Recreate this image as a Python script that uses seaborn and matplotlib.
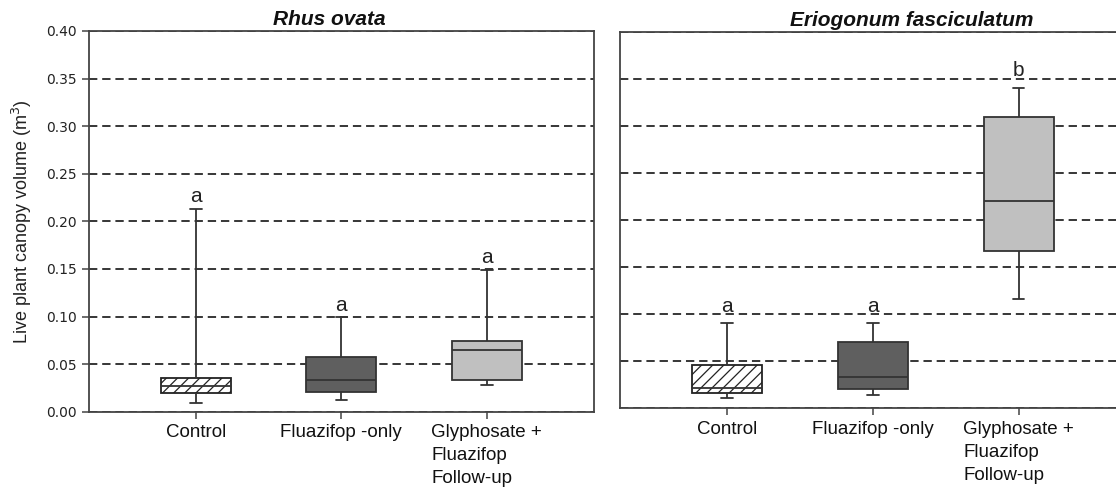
import numpy as np
import pandas as pd
import matplotlib
matplotlib.use("Agg")
import matplotlib.pyplot as plt
import seaborn as sns

# Treatments and species
treatments = ["Control", "Fluazifop -only", "Glyphosate +\nFluazifop\nFollow-up"]
species = ["Rhus ovata", "Eriogonum fasciculatum"]

# Five-number summaries (m^3) per treatment: min, q1, median, q3, max
rhus_min = [0.009, 0.012, 0.028]
rhus_q1 = [0.020, 0.021, 0.033]
rhus_med = [0.027, 0.033, 0.065]
rhus_q3 = [0.035, 0.057, 0.074]
rhus_max = [0.213, 0.099, 0.149]

erio_min = [0.011, 0.014, 0.116]
erio_q1 = [0.016, 0.021, 0.167]
erio_med = [0.022, 0.033, 0.220]
erio_q3 = [0.046, 0.071, 0.310]
erio_max = [0.091, 0.091, 0.341]

# Significance groupings
rhus_letters = ["a", "a", "a"]
erio_letters = ["a", "a", "b"]

y_ticks = [0.00, 0.05, 0.10, 0.15, 0.20, 0.25, 0.30, 0.35, 0.40]

box_colors = ["#ffffff", "#5f5f5f", "#c0c0c0"]
line_col = "#333333"


def long_table(mins, q1s, meds, q3s, maxs):
    rows = []
    for t, a, b, c, d, e in zip(treatments, mins, q1s, meds, q3s, maxs):
        for v in (a, b, c, d, e):
            rows.append({"treatment": t, "volume": v})
    return pd.DataFrame(rows)


panels = [
    (species[0], long_table(rhus_min, rhus_q1, rhus_med, rhus_q3, rhus_max), rhus_max, rhus_letters),
    (species[1], long_table(erio_min, erio_q1, erio_med, erio_q3, erio_max), erio_max, erio_letters),
]

sns.set_theme(style="white")
plt.rcParams["font.family"] = ["Liberation Sans", "DejaVu Sans"]
plt.rcParams["lines.scale_dashes"] = False
plt.rcParams["hatch.linewidth"] = 0.9

fig = plt.figure(figsize=(11.16, 4.87), dpi=100)
W, H = 1116.0, 487.0
# axes rectangles in pixel units: left, top, right, bottom
rects = [(89.0, 31.0, 593.7, 411.7), (620.0, 32.0, 1125.7, 408.3)]
title_x = [0.476, 0.577]
letter_gap = [5, 8]

for i, ((name, df, maxs, letters), (l, t, r, b)) in enumerate(zip(panels, rects)):
    ax = fig.add_axes([l / W, (H - b) / H, (r - l) / W, (b - t) / H])
    sns.boxplot(
        data=df, x="treatment", y="volume", hue="treatment",
        order=treatments, hue_order=treatments, palette=box_colors,
        legend=False, dodge=False, width=0.48, whis=(0, 100),
        linecolor=line_col, linewidth=1.3, fliersize=0,
        capwidths=0.08, ax=ax,
    )
    # hatched control box
    if ax.patches:
        ax.patches[0].set_hatch("///")
        ax.patches[0].set_edgecolor("#222222")

    ax.set_xlim(-0.735, 2.735)
    ax.set_ylim(0, 0.40)
    ax.set_yticks(y_ticks)
    ax.set_axisbelow(True)
    ax.yaxis.grid(True, color="#000000", linewidth=1.1, linestyle=(0, (6.0, 3.5)))
    ax.xaxis.grid(False)

    for s in ax.spines.values():
        s.set_visible(True)
        s.set_color("#444444")
        s.set_linewidth(1.3)

    ax.set_xlabel("")
    ax.tick_params(axis="x", bottom=True, length=5, width=1.1, color="#444444",
                   labelsize=13.5, labelcolor="#111111", pad=4)
    for lbl in ax.get_xticklabels():
        lbl.set_multialignment("left")
        lbl.set_linespacing(1.45)

    if i == 0:
        ax.tick_params(axis="y", left=True, length=5, width=1.1, color="#444444",
                       labelsize=10, labelcolor="#222222", pad=4)
        for lbl in ax.get_yticklabels():
            lbl.set_fontfamily("DejaVu Sans")
        ax.yaxis.set_major_formatter(matplotlib.ticker.FormatStrFormatter("%.2f"))
        ax.set_ylabel("Live plant canopy volume (m$^3$)", fontsize=13, color="#222222")
        ax.yaxis.set_label_coords(-0.109, 0.5)
    else:
        ax.tick_params(axis="y", left=False, labelleft=False)
        ax.set_ylabel("")

    ax.text(title_x[i], 1.0 + 6.0 / (b - t), name, transform=ax.transAxes,
            ha="center", va="baseline", fontsize=15, fontweight="bold",
            fontstyle="italic", color="#111111")

    for k, (top, letter) in enumerate(zip(maxs, letters)):
        ax.annotate(letter, xy=(k, top), xytext=(0, letter_gap[i]),
                    textcoords="offset points", ha="center", va="baseline",
                    fontsize=15, color="#222222")

fig.savefig("out.png", dpi=100)
